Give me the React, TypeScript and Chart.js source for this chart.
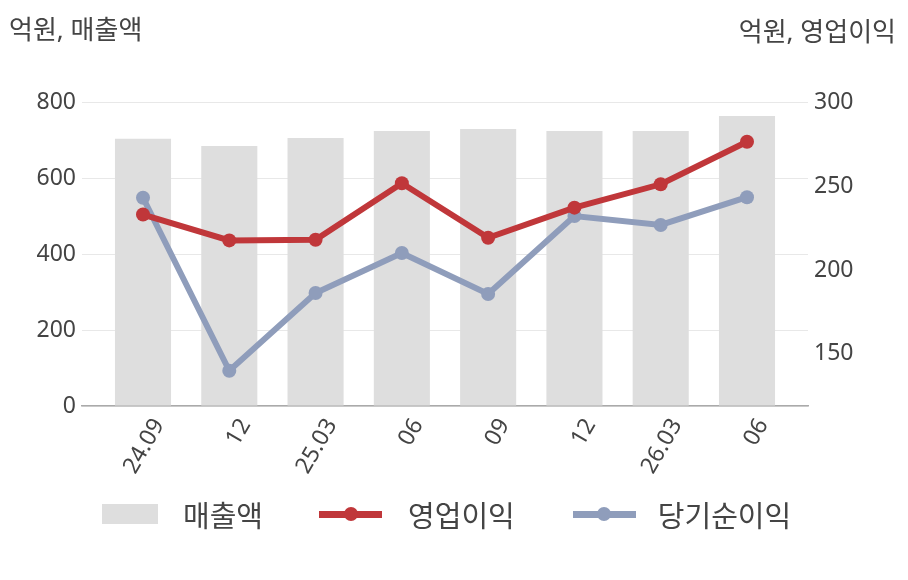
import React, { useEffect, useRef } from 'react';
import { Chart, registerables } from 'chart.js';

Chart.register(...registerables);

const categories = ['24.09', '12', '25.03', '06', '09', '12', '26.03', '06'];
const revenue = [703, 684, 705, 724, 729, 724, 724, 763];
const operatingProfit = [233.0, 217.6, 218.0, 251.6, 219.2, 237.1, 251.0, 276.3];
const netProfit = [243.0, 140.0, 186.3, 210.1, 185.7, 232.1, 226.8, 243.3];
const leftTicks = [0, 200, 400, 600, 800];
const rightTicks = [150, 200, 250, 300];

const FONT = '"Noto Sans", "Noto Sans CJK KR", sans-serif';
const TEXT = '#444444';
const BAR = '#dedede';
const RED = '#c0373a';
const BLUE = '#8f9dbb';

function LineSwatch({ color, ml }: { color: string; ml: number }) {
  return (
    <span style={{ position: 'relative', display: 'inline-block', width: 63, height: 14, marginLeft: ml }}>
      <span style={{ position: 'absolute', left: 0, top: 3.5, width: 63, height: 7, background: color }} />
      <span style={{ position: 'absolute', left: 24.5, top: 0, width: 14, height: 14, borderRadius: 7, background: color }} />
    </span>
  );
}

export default function App() {
  const ref = useRef<HTMLCanvasElement | null>(null);

  useEffect(() => {
    if (!ref.current) return;
    const chart = new Chart(ref.current, {
      type: 'bar',
      data: {
        datasets: [
          {
            type: 'line',
            label: '영업이익',
            data: operatingProfit.map((v, i) => ({ x: i, y: v })),
            yAxisID: 'y1',
            borderColor: RED,
            backgroundColor: RED,
            borderWidth: 6,
            pointRadius: 7,
            pointBorderWidth: 0,
            pointBackgroundColor: RED,
            order: 1,
          } as any,
          {
            type: 'line',
            label: '당기순이익',
            data: netProfit.map((v, i) => ({ x: i, y: v })),
            yAxisID: 'y1',
            borderColor: BLUE,
            backgroundColor: BLUE,
            borderWidth: 6,
            pointRadius: 7,
            pointBorderWidth: 0,
            pointBackgroundColor: BLUE,
            order: 2,
          } as any,
          {
            type: 'bar',
            label: '매출액',
            data: revenue.map((v, i) => ({ x: i, y: v })),
            yAxisID: 'y',
            backgroundColor: BAR,
            barPercentage: 0.65,
            categoryPercentage: 1,
            order: 3,
          } as any,
        ],
      },
      options: {
        responsive: false,
        animation: false,
        devicePixelRatio: 1,
        layout: { padding: { top: 102, bottom: 0, left: 0, right: 0 } },
        plugins: { legend: { display: false }, tooltip: { enabled: false } },
        scales: {
          x: {
            type: 'linear',
            offset: false,
            min: -0.707,
            max: 7.707,
            grid: { display: false, drawTicks: false, offset: false },
            border: { display: true, color: '#aaaaaa', width: 1.5 },
            afterBuildTicks: (s: any) => {
              s.ticks = categories.map((_, i) => ({ value: i }));
            },
            afterFit: (s: any) => {
              s.height = 174;
            },
            ticks: {
              callback: (v: any) => categories[v as number],
              minRotation: 60,
              maxRotation: 60,
              autoSkip: false,
              padding: 8,
              labelOffset: 16,
              color: TEXT,
              font: { size: 23, family: FONT },
            },
          },
          y: {
            position: 'left',
            min: 0,
            max: 800,
            afterBuildTicks: (s: any) => {
              s.ticks = leftTicks.map((v) => ({ value: v }));
            },
            afterFit: (s: any) => {
              s.width = 82;
            },
            grid: { color: '#e8e8e8', drawTicks: false, lineWidth: 1 },
            border: { display: false },
            ticks: { padding: 6, color: TEXT, font: { size: 23, family: FONT } },
          },
          y1: {
            position: 'right',
            min: 119,
            max: 300,
            afterBuildTicks: (s: any) => {
              s.ticks = rightTicks.map((v) => ({ value: v }));
            },
            afterFit: (s: any) => {
              s.width = 100;
            },
            grid: { drawOnChartArea: false, drawTicks: false },
            border: { display: false },
            ticks: { padding: 6, color: TEXT, font: { size: 23, family: FONT } },
          },
        },
      } as any,
    });
    return () => chart.destroy();
  }, []);

  return (
    <div style={{ position: 'absolute', left: 0, top: 0, width: 908, height: 580, background: '#fff', fontFamily: FONT }}>
      <canvas ref={ref} width={908} height={580} style={{ position: 'absolute', left: 0, top: 0, width: 908, height: 580 }} />
      <div style={{ position: 'absolute', left: 9, top: 10, fontSize: 26, color: TEXT, lineHeight: '38px', whiteSpace: 'nowrap' }}>억원, 매출액</div>
      <div style={{ position: 'absolute', right: 12, top: 12, fontSize: 26, color: TEXT, lineHeight: '38px', whiteSpace: 'nowrap' }}>억원, 영업이익</div>
      <div style={{ position: 'absolute', left: 102, top: 493, height: 42, display: 'flex', alignItems: 'center', fontSize: 29, color: TEXT, whiteSpace: 'nowrap' }}>
        <span style={{ display: 'inline-block', width: 56, height: 20, background: BAR }} />
        <span style={{ marginLeft: 25 }}>매출액</span>
        <LineSwatch color={RED} ml={56} />
        <span style={{ marginLeft: 26 }}>영업이익</span>
        <LineSwatch color={BLUE} ml={58} />
        <span style={{ marginLeft: 22 }}>당기순이익</span>
      </div>
    </div>
  );
}
